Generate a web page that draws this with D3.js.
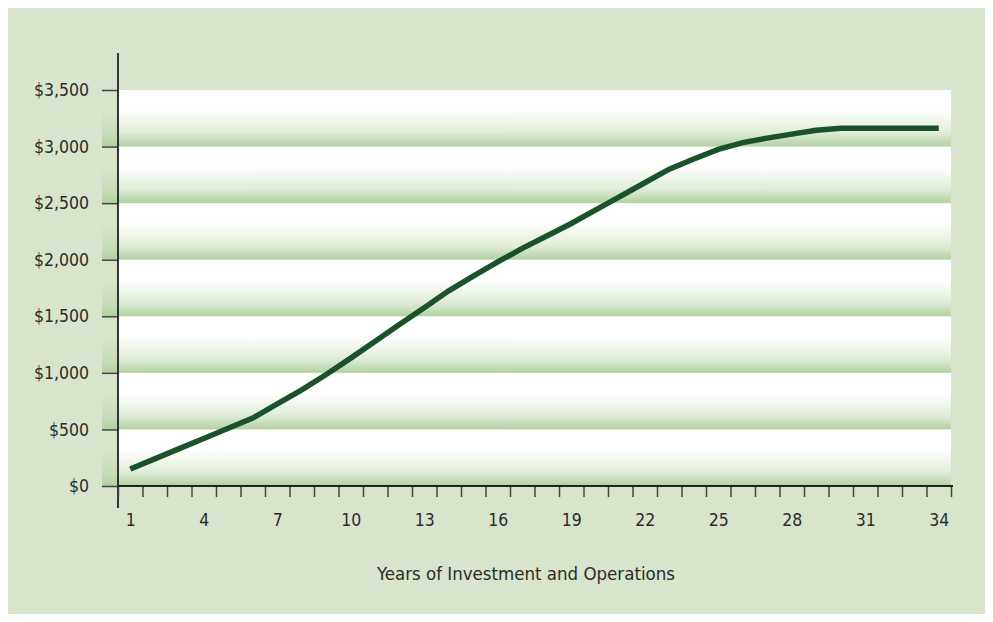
<!DOCTYPE html>
<html>
<head>
<meta charset="utf-8">
<script src="https://cdn.jsdelivr.net/npm/d3@7"></script>
<style>
  html, body { margin: 0; padding: 0; background: #ffffff; }
  svg { display: block; }
  text { font-family: "Liberation Sans Narrow", "DejaVu Sans Condensed", "Roboto", sans-serif; fill: #2b2b2b; }
</style>
</head>
<body>
<svg id="chart" width="993" height="622"></svg>
<script>
// ---- data ----
const years = d3.range(1, 35);
const values = [150, 240, 330, 420, 510, 600, 725, 850, 985, 1130,
                1280, 1430, 1575, 1725, 1855, 1980, 2100, 2210, 2320, 2440,
                2560, 2680, 2800, 2890, 2975, 3035, 3075, 3110, 3145, 3162,
                3162, 3162, 3162, 3162];
const yTicks = [0, 500, 1000, 1500, 2000, 2500, 3000, 3500];
const xLabelYears = [1, 4, 7, 10, 13, 16, 19, 22, 25, 28, 31, 34];
const xTitle = "Years of Investment and Operations";

// ---- layout ----
const W = 993, H = 622;
const plot = { left: 118, right: 951, top: 90, bottom: 486 };

const svg = d3.select("#chart");
const defs = svg.append("defs");
const grad = defs.append("linearGradient")
  .attr("id", "bandGrad").attr("x1", 0).attr("x2", 0).attr("y1", 0).attr("y2", 1);
grad.append("stop").attr("offset", "0%").attr("stop-color", "#b3d1a0").attr("stop-opacity", 0);
grad.append("stop").attr("offset", "35%").attr("stop-color", "#b3d1a0").attr("stop-opacity", 0);
grad.append("stop").attr("offset", "75%").attr("stop-color", "#b3d1a0").attr("stop-opacity", 0.4);
grad.append("stop").attr("offset", "100%").attr("stop-color", "#b3d1a0").attr("stop-opacity", 1);

// background panel
svg.append("rect").attr("x", 8).attr("y", 8).attr("width", W - 16).attr("height", H - 16)
  .attr("fill", "#d9e4cd");

const x = d3.scaleLinear().domain([0.5, 34.5]).range([plot.left, plot.right]);
const y = d3.scaleLinear().domain([0, 3500]).range([plot.bottom, plot.top]);

// white plot area
svg.append("rect").attr("x", plot.left).attr("y", plot.top)
  .attr("width", plot.right - plot.left).attr("height", plot.bottom - plot.top)
  .attr("fill", "#ffffff");

// gradient bands
const bands = yTicks.slice(1).map((t, i) => [yTicks[i], t]);
svg.append("g").selectAll("rect").data(bands).join("rect")
  .attr("x", 102).attr("width", plot.right - 102)
  .attr("y", d => y(d[1])).attr("height", d => y(d[0]) - y(d[1]))
  .attr("fill", "url(#bandGrad)");

// y axis
const yAxis = d3.axisLeft(y).tickValues(yTicks).tickSize(16).tickPadding(13)
  .tickFormat(d => "$" + d3.format(",")(d));
const gy = svg.append("g").attr("transform", `translate(${plot.left},0)`).call(yAxis);
gy.select(".domain").remove();
gy.selectAll(".tick line").attr("stroke", "#444").attr("stroke-width", 1.5);
gy.selectAll(".tick text").style("font-size", "17.5px").attr("fill", "#2b2b2b");

svg.append("line").attr("x1", plot.left).attr("x2", plot.left).attr("y1", 53).attr("y2", 508)
  .attr("stroke", "#222").attr("stroke-width", 1.8);

// x axis ticks
const xAxisTicks = d3.axisBottom(x).tickValues(d3.range(0.5, 35, 1)).tickSize(11).tickFormat("");
const gx = svg.append("g").attr("transform", `translate(0,${plot.bottom})`).call(xAxisTicks);
gx.select(".domain").remove();
gx.selectAll(".tick line").attr("stroke", "#444").attr("stroke-width", 1.5);
svg.append("line").attr("x1", plot.left).attr("x2", plot.right + 2).attr("y1", plot.bottom).attr("y2", plot.bottom)
  .attr("stroke", "#222").attr("stroke-width", 1.8);

// x labels
const xAxisLabels = d3.axisBottom(x).tickValues(xLabelYears).tickSize(0).tickPadding(28);
const gxl = svg.append("g").attr("transform", `translate(0,${plot.bottom})`).call(xAxisLabels);
gxl.select(".domain").remove();
gxl.selectAll(".tick text").style("font-size", "17.5px").attr("fill", "#2b2b2b");

// x title
svg.append("text").attr("x", 526).attr("y", 580)
  .attr("text-anchor", "middle").style("font-size", "18.5px").text(xTitle);

// line
const line = d3.line().x((d, i) => x(years[i])).y(d => y(d));
svg.append("path").datum(values).attr("d", line)
  .attr("fill", "none").attr("stroke", "#1a5229").attr("stroke-width", 5.5)
  .attr("stroke-linejoin", "miter");
</script>
</body>
</html>
